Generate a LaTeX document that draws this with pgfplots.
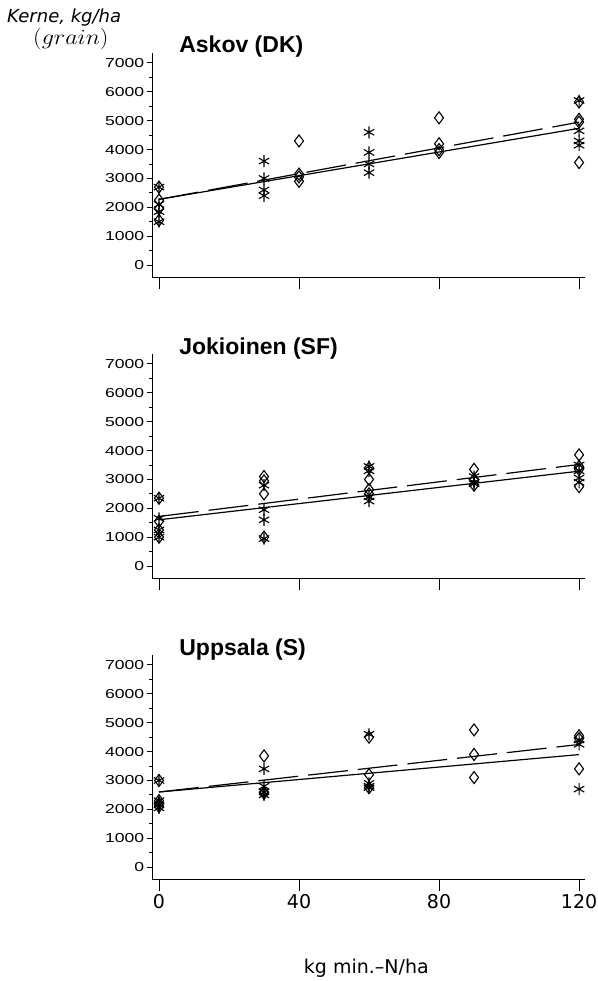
\documentclass[border=0pt]{standalone}
\usepackage{pgfplots}
\pgfplotsset{compat=1.18}
\usepackage{fontspec}
\usepackage{graphicx}
\setmainfont{Liberation Sans}
\newfontfamily\tickfont[FakeStretch=1.35]{Liberation Sans}
\newfontfamily\labfont{DejaVu Sans}

\pgfplotsset{
  panel/.style={
    scale only axis, width=433pt, height=224pt, anchor=south west,
    xmin=-2, xmax=121.7, ymin=-415, ymax=7346,
    axis x line*=bottom, axis y line*=left,
    axis line style={-, line width=1pt},
    xtick={0,40,80,120}, ytick={0,1000,...,7000}, minor y tick num=1,
    tick align=outside,
    xtick style={/pgfplots/major tick length=12pt, line width=1pt, black},
    ytick style={/pgfplots/major tick length=5pt, /pgfplots/minor tick length=3pt, line width=1pt, black},
    scaled y ticks=false, scaled x ticks=false,
    yticklabel style={font=\tickfont\fontsize{13}{13}\selectfont,
      /pgf/number format/1000 sep={}, /pgf/number format/assume math mode=true},
    clip=false,
  },
  ast/.style={only marks, mark=asterisk, mark size=6pt, line width=1.1pt, black},
  dia/.style={only marks, mark=diamond, mark size=6pt, line width=1.1pt, black},
  solidfit/.style={no marks, line width=1.2pt, black},
  dashfit/.style={no marks, line width=1.2pt, black, dash pattern=on 40pt off 10pt},
}

\begin{document}
\begin{tikzpicture}
\useasboundingbox (0,0) rectangle (597pt,-981pt);

% ---------- Askov ----------
\begin{axis}[panel, at={(152pt,-277pt)}, xticklabels={}]
\addplot[ast] table {
x y
0 2700
0 2100
0 1850
0 1500
30 3600
30 3000
30 2600
30 2400
60 4600
60 3900
60 3500
60 3200
120 5700
120 4650
120 4300
120 4150
};
\addplot[dia] table {
x y
0 2700
0 2250
0 1950
0 1550
40 4300
40 3150
40 3050
40 2900
80 5100
80 4200
80 4000
80 3900
120 5650
120 5050
120 4950
120 3550
};
\addplot[solidfit] coordinates {(0,2275) (120,4736)};
\addplot[dashfit] coordinates {(0,2275) (120,4950)};
\node[anchor=base west, font=\bfseries\fontsize{23}{23}\selectfont] at (rel axis cs:0.055,1.0) {Askov (DK)};
\end{axis}

% ---------- Jokioinen ----------
\begin{axis}[panel, at={(152pt,-578pt)}, xticklabels={}]
\addplot[ast] table {
x y
0 2350
0 1650
0 1250
0 1000
30 2800
30 1950
30 1600
30 950
60 3450
60 3300
60 2400
60 2250
90 3100
90 2900
90 2850
120 3500
120 3300
120 3050
120 2900
};
\addplot[dia] table {
x y
0 2350
0 1550
0 1250
0 1000
30 3100
30 2950
30 2500
30 1000
60 3400
60 3000
60 2650
60 2500
90 3350
90 3000
90 2800
120 3850
120 3450
120 3350
120 2750
};
\addplot[solidfit] coordinates {(0,1602) (120,3286)};
\addplot[dashfit] coordinates {(0,1718) (120,3518)};
\node[anchor=base west, font=\bfseries\fontsize{23}{23}\selectfont] at (rel axis cs:0.055,1.0) {Jokioinen (SF)};
\end{axis}

% ---------- Uppsala ----------
\begin{axis}[panel, at={(152pt,-879pt)},
  xticklabel style={font=\labfont\fontsize{19}{19}\selectfont, yshift=-8pt,
    /pgf/number format/assume math mode=true}]
\addplot[ast] table {
x y
0 3000
0 2300
0 2150
0 2050
30 3400
30 2800
30 2600
30 2500
60 4600
60 2900
60 2800
60 2750
120 4400
120 4250
120 2700
};
\addplot[dia] table {
x y
0 3000
0 2300
0 2200
0 2100
30 3850
30 2600
30 2550
60 4500
60 3200
60 2750
90 4750
90 3900
90 3100
120 4550
120 4450
120 3400
};
\addplot[solidfit] coordinates {(0,2600) (120,3896)};
\addplot[dashfit] coordinates {(0,2600) (120,4246)};
\node[anchor=base west, font=\bfseries\fontsize{23}{23}\selectfont] at (rel axis cs:0.055,1.0) {Uppsala (S)};
\node[anchor=base, font=\labfont\fontsize{19}{19}\selectfont] at (rel axis cs:0.495,0) [yshift=-94pt] {kg min.–N/ha};
\end{axis}

\node[anchor=base west, inner sep=0pt, font=\labfont\itshape\fontsize{18}{18}\selectfont] at (7pt,-23pt) {Kerne, kg/ha};
\node[anchor=base west, inner sep=0pt] at (33pt,-45pt) {\fontsize{18}{18}\selectfont\scalebox{1.4}[1.25]{$(grain)$}};
\end{tikzpicture}
\end{document}
